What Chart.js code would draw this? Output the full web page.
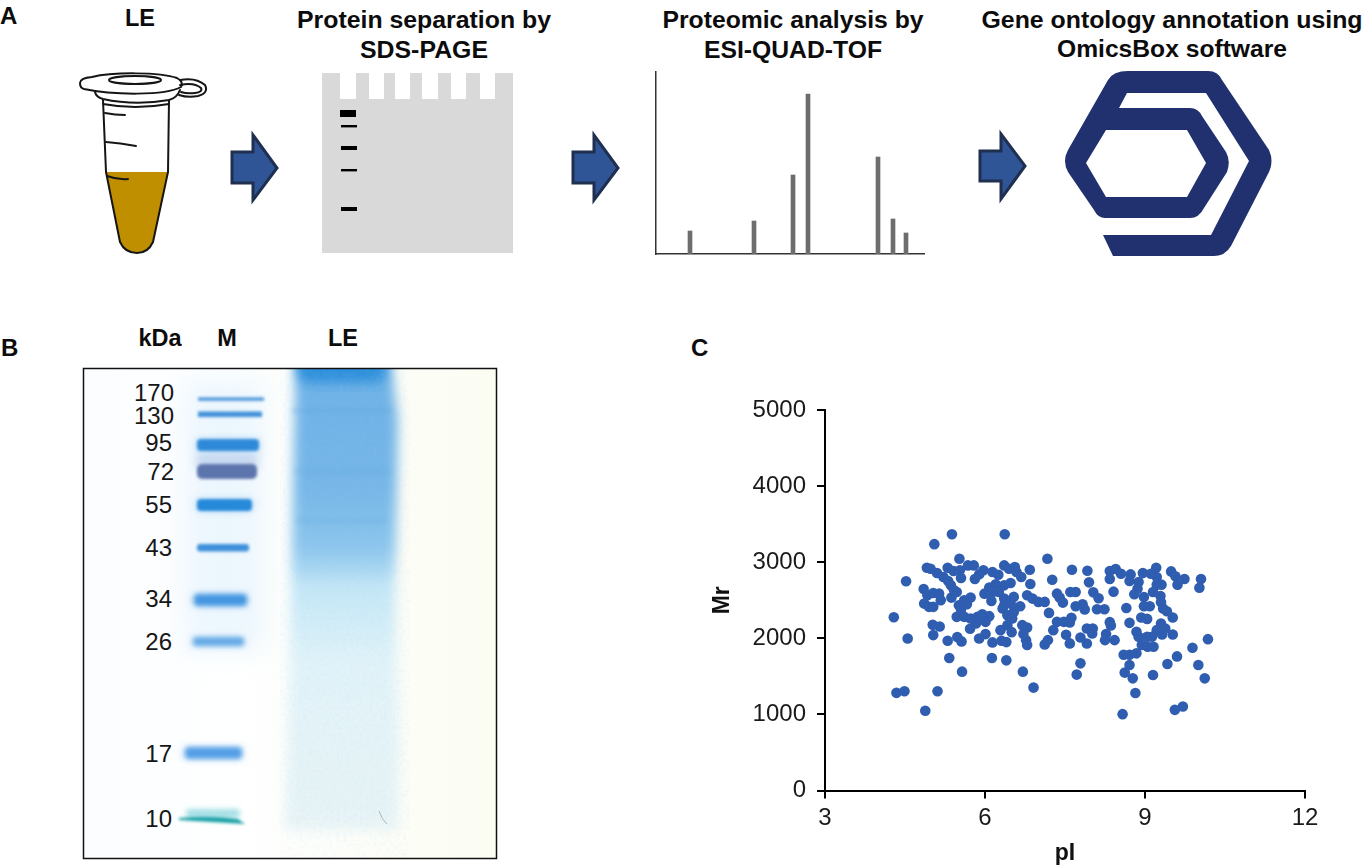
<!DOCTYPE html>
<html><head><meta charset="utf-8">
<script src="https://cdn.jsdelivr.net/npm/chart.js@4"></script>
<style>
html,body{margin:0;padding:0;background:#fff;width:1370px;height:868px;overflow:hidden;font-family:"Liberation Sans",Arial,sans-serif}
svg{position:absolute;left:0;top:0}
canvas{position:absolute}
text{font-family:"Liberation Sans",Arial,sans-serif;fill:#0c0c0c}
.h{font-weight:bold;font-size:23.5px;text-anchor:middle}
.p{font-weight:bold;font-size:24px}
.k{font-size:24px;text-anchor:end;fill:#161616}
</style></head><body>
<svg width="1370" height="868" viewBox="0 0 1370 868" xmlns="http://www.w3.org/2000/svg">
<defs>
<filter id="b1" x="-30%" y="-200%" width="160%" height="500%"><feGaussianBlur stdDeviation="1.6"/></filter>
<filter id="b2" x="-30%" y="-200%" width="160%" height="500%"><feGaussianBlur stdDeviation="2.6"/></filter>
<filter id="b3" x="-30%" y="-300%" width="160%" height="700%"><feGaussianBlur stdDeviation="5"/></filter>
<filter id="b6" x="-30%" y="-30%" width="160%" height="160%"><feGaussianBlur stdDeviation="6"/></filter>
<filter id="b14" x="-40%" y="-20%" width="180%" height="140%"><feGaussianBlur stdDeviation="14"/></filter>
<filter id="nz" x="0" y="0" width="100%" height="100%"><feTurbulence type="fractalNoise" baseFrequency="0.3" numOctaves="3" seed="4"/><feColorMatrix values="0 0 0 0 0.35 0 0 0 0 0.6 0 0 0 0 0.85 0 0 0 0.9 -0.42"/></filter>
<linearGradient id="bg" x1="0" x2="1" y1="0" y2="0"><stop offset="0" stop-color="#fbfdff"/><stop offset=".35" stop-color="#feffff"/><stop offset=".78" stop-color="#fcfdf6"/><stop offset="1" stop-color="#fbfcf2"/></linearGradient>
<linearGradient id="lane" x1="0" x2="0" y1="0" y2="1"><stop offset="0" stop-color="#3b97df"/><stop offset=".05" stop-color="#55a5e2"/><stop offset=".11" stop-color="#69afe6"/><stop offset=".3" stop-color="#6fb3e7"/><stop offset=".42" stop-color="#85c2ec"/><stop offset=".47" stop-color="#a5d5f2"/><stop offset=".5" stop-color="#c0e5f6"/><stop offset=".66" stop-color="#e0f3f9"/><stop offset=".9" stop-color="#e4f3f6"/><stop offset="1" stop-color="#e6f3f5"/></linearGradient>
<clipPath id="gelclip"><rect x="84" y="369" width="412" height="489"/></clipPath>
</defs>

<!-- panel letters -->
<text class="p" x="0" y="24">A</text>
<text class="p" x="1" y="356">B</text>
<text class="p" x="691" y="356">C</text>

<!-- panel A headings -->
<text class="h" x="140" y="26">LE</text>
<text class="h" x="424" y="28" textLength="254" lengthAdjust="spacingAndGlyphs">Protein separation by</text>
<text class="h" x="424" y="58" textLength="128" lengthAdjust="spacingAndGlyphs">SDS-PAGE</text>
<text class="h" x="793" y="28" textLength="261" lengthAdjust="spacingAndGlyphs">Proteomic analysis by</text>
<text class="h" x="793" y="58" textLength="178" lengthAdjust="spacingAndGlyphs">ESI-QUAD-TOF</text>
<text class="h" x="1172" y="28" textLength="381" lengthAdjust="spacingAndGlyphs">Gene ontology annotation using</text>
<text class="h" x="1172" y="57" textLength="230" lengthAdjust="spacingAndGlyphs">OmicsBox software</text>

<!-- tube -->
<path d="M106,172 L168,172 L153,242 Q148,253 137,253 Q125,253 120,242 Z" fill="#bf8f00"/>
<g fill="none" stroke="#151515" stroke-width="2" stroke-linecap="round" stroke-linejoin="round">
<path d="M103,100 L106,172 L120,242 Q125,253 137,253 Q148,253 153,242 L168,172 L169,100"/>
<path d="M80,83 Q80,78 92,77 C112,72 160,72 177,78 Q184,82 181,87 C165,96 112,95 84,89 Q80,88 80,83 Z"/>
<ellipse cx="135" cy="80" rx="26" ry="4"/>
<path d="M95,92 Q96,97 103,99 Q135,106 169,100 Q177,98 180,90"/>
<path d="M103,104 Q135,110 169,104"/>
<path d="M180,80 Q196,77 205,85 Q209,93 198,96 Q188,98 179,95"/>
<path d="M180,85 Q194,82 201,88 Q203,92 195,93 Q187,94 181,92"/>
<path d="M105,113 Q115,115 125,115"/><path d="M106,142 Q120,143 136,146"/><path d="M107,176 Q118,180 128,179"/>
</g>

<!-- arrows -->
<g fill="#2f5597" stroke="#1f2f4f" stroke-width="3">
<path d="M232,152 L253,152 L253,135 L277,168 L253,200 L253,183 L232,183 Z"/>
<path d="M573,152 L594,152 L594,135 L618,168 L594,200 L594,183 L573,183 Z"/>
<path d="M980,151 L1001,151 L1001,134 L1025,166 L1001,199 L1001,181 L980,181 Z"/>
</g>

<!-- SDS-PAGE schematic -->
<path fill="#d9d9d9" d="M322,73H340V99H356V73H369V99H384V73H395V99H410V73H422V99H438V73H451V99H466V73H480V99H495V73H513V253H322Z"/>
<g fill="#000"><rect x="340" y="110" width="16" height="7"/><rect x="341" y="125" width="16" height="2.4"/><rect x="341" y="146" width="16" height="4"/><rect x="341" y="169" width="16" height="2.4"/><rect x="341" y="207" width="16" height="4"/></g>

<!-- OmicsBox logo -->
<path fill="#21306e" fill-rule="evenodd"
 d="M1128,71 L1208,71 Q1218,71 1222,80 L1269,150 Q1274,161 1269,172 L1231,246 Q1225,256 1214,256 L1113,256 L1103,235 L1211,235 L1249,161 L1206,93 L1127,93 L1119,108 L1190,108 Q1198,108 1202,116 L1226,152 Q1231,161 1227,172 L1204,208 Q1199,218 1190,218 L1105,218 Q1098,218 1094,210 L1068,172 Q1062,161 1068,150 L1108,80 Q1113,71 1128,71 Z
 M1106,130 L1187,130 L1206,163 L1187,197 L1106,197 L1086,163 Z"/>

<!-- panel B gel -->
<text class="h" x="160" y="346">kDa</text>
<text class="h" x="227" y="346">M</text>
<text class="h" x="343" y="346">LE</text>
<rect x="83.5" y="368.5" width="413" height="490" fill="url(#bg)"/>
<g clip-path="url(#gelclip)">
 <rect x="185" y="380" width="80" height="270" fill="#dff0fd" opacity=".55" filter="url(#b14)"/>
 <path d="M296,340 L388,340 L398,420 L395,600 L399,740 L398,830 L285,830 L290,640 Z" fill="url(#lane)" filter="url(#b6)" opacity=".95"/>
 <rect x="298" y="350" width="87" height="32" rx="10" fill="#2f90dc" filter="url(#b6)"/>
 <rect x="292" y="408" width="100" height="5" fill="#5aa5e0" opacity=".28" filter="url(#b2)"/>
 <rect x="295" y="469" width="96" height="5" fill="#5aa5e0" opacity=".2" filter="url(#b2)"/>
 <rect x="296" y="518" width="90" height="5" fill="#5aa5e0" opacity=".22" filter="url(#b2)"/>
 <rect x="280" y="369" width="130" height="489" filter="url(#nz)" opacity=".3"/>
 <rect x="196" y="454" width="62" height="14" fill="#c3d5ef" filter="url(#b3)"/>
 <g filter="url(#b3)" opacity=".55">
  <rect x="196" y="440" width="64" height="10" fill="#7fbcec"/>
  <rect x="196" y="500" width="57" height="10" fill="#7fbcec"/>
  <rect x="192" y="595" width="56" height="10" fill="#8ec4ef"/>
  <rect x="191" y="638" width="54" height="8" fill="#a5cff2"/>
  <rect x="183" y="748" width="60" height="10" fill="#95c6f0"/>
 </g>
 <g filter="url(#b1)">
  <rect x="198" y="397.5" width="66" height="3.2" fill="#3f8fd8"/>
  <rect x="198" y="411.5" width="64" height="5.5" fill="#3f8fd8"/>
  <rect x="197" y="439" width="62" height="12" rx="4" fill="#2e8ad9"/>
  <rect x="197" y="464" width="60" height="15" rx="5" fill="#5d75ad"/>
  <rect x="197" y="499" width="55" height="12" rx="4" fill="#2689da"/>
  <rect x="197" y="544" width="52" height="7.5" rx="3" fill="#3c90da"/>
 </g>
 <g filter="url(#b2)">
  <rect x="194" y="594" width="53" height="12" rx="4" fill="#4396e0"/>
  <rect x="193" y="637" width="51" height="9" rx="3" fill="#64a9e6"/>
  <rect x="185" y="747" width="57" height="12" rx="4" fill="#559fe6"/>
 </g>
 <rect x="186" y="809" width="54" height="9" rx="4" fill="#a5e0e6" filter="url(#b2)"/>
 <path d="M179,818 Q210,815 238,819 L245,824 Q210,822 179,820 Z" fill="#1fa3a8" filter="url(#b1)"/>
 <path d="M379,811 Q382,820 387,824" stroke="#a9b8ba" stroke-width="1" fill="none"/>
</g>
<rect x="83.5" y="368.5" width="413" height="490" fill="none" stroke="#111" stroke-width="1.5"/>
<g>
<text class="k" x="174" y="401">170</text><text class="k" x="174" y="424">130</text>
<text class="k" x="172" y="451">95</text><text class="k" x="174" y="480">72</text>
<text class="k" x="172" y="513">55</text><text class="k" x="172" y="556">43</text>
<text class="k" x="172" y="607">34</text><text class="k" x="172" y="650">26</text>
<text class="k" x="172" y="762">17</text><text class="k" x="172" y="827">10</text>
</g>
</svg>
<canvas id="spec" width="280" height="196" style="left:650px;top:66px;width:280px;height:196px"></canvas>
<canvas id="sc" width="660" height="488" style="left:700px;top:380px;width:660px;height:488px"></canvas>
<script>
// Panel A: spectrum
const specMz=[34,98,137,152,222,237,250];
const specIntensity=[23,33,79,160,97,35,21];
// Panel C: scatter, pI and Mr
const pI=[5.38,6.37,5.05,5.52,7.17,7.63,4.52,4.29,4.55,4.34,4.49,5.11,4.88,5.57,5.33,6.13,6.40,6.71,6.91,7.72,7.79,5.03,5.30,5.02,5.15,5.48,5.56,4.85,4.86,4.95,5.03,4.92,5.03,5.14,5.17,4.91,4.98,5.10,5.22,5.30,5.41,5.53,5.55,5.31,5.36,5.47,5.37,5.42,5.68,5.79,5.97,5.89,5.81,6.14,6.25,6.36,6.45,6.56,6.59,6.68,6.84,6.85,6.48,6.36,6.20,6.08,5.99,6.11,6.26,5.73,5.61,5.51,5.66,5.55,6.12,6.36,6.54,6.36,6.48,6.66,6.33,6.54,6.42,6.51,5.47,5.61,5.73,5.86,5.95,6.08,5.83,5.72,6.01,6.42,6.29,6.50,6.01,5.89,6.14,6.31,6.40,6.70,6.79,6.72,6.77,6.79,6.79,6.89,7.00,7.12,7.20,7.35,7.40,7.46,7.60,7.70,7.70,7.26,7.35,7.48,7.59,7.62,7.28,7.52,7.59,7.12,7.18,
7.92,7.95,8.03,8.13,7.83,7.87,8.10,8.24,8.34,8.45,8.55,8.34,8.73,8.71,8.88,8.41,8.96,9.11,9.21,9.22,9.22,9.31,8.86,8.80,9.15,9.49,9.57,9.74,9.61,10.05,10.02,8.98,9.29,9.30,8.65,8.98,9.09,9.34,9.41,9.52,8.34,8.36,8.71,8.93,9.04,9.30,9.38,9.32,9.52,7.91,8.02,8.01,8.27,8.25,8.43,7.91,8.84,8.88,9.04,9.13,8.94,9.05,9.16,9.22,8.60,8.71,8.84,8.71,8.62,8.77,8.82,8.58,9.15,9.42,9.60,9.89,10.18,10.00,10.12,9.56,9.71,7.79];
const Mr=[3368,3368,3237,3045,3045,2901,2749,2277,1998,1283,1304,1304,1047,1562,1741,1741,1710,1562,1352,1523,1671,2042,1968,2177,2155,2016,1959,2648,2456,2413,2413,2565,2596,2587,2500,2928,2914,2858,2805,2928,2884,2893,2792,2753,2696,2609,2535,2631,2958,2958,2893,2840,2779,2871,2836,2958,2914,2936,2871,2805,2901,2714,2727,2696,2709,2666,2587,2578,2609,2535,2500,2434,2448,2378,2491,2522,2544,2434,2456,2421,2391,2347,2304,2260,2282,2282,2260,2282,2317,2291,2195,2125,2216,2173,2107,2081,2055,1998,1946,1968,1950,2173,2142,2055,1976,1911,2565,2522,2478,2478,2334,2587,2535,2469,2609,2609,2421,2770,2216,2216,2208,2269,2107,2046,1933,1920,1976,
2888,2735,2604,2526,2447,2378,2382,2382,2884,2910,2849,2779,2840,2753,2740,2613,2857,2849,2927,2805,2705,2705,2652,2578,2609,2879,2814,2779,2705,2779,2665,2543,2556,2473,2399,2421,2421,2390,2356,2273,2212,2168,2203,2273,2255,2194,2129,2050,2050,2129,2129,2063,2055,1976,1976,1932,2085,2020,2020,2020,1911,1889,1889,2107,1784,1784,1802,1649,1549,1474,1282,1003,1518,1662,1762,1876,1989,1649,1474,1060,1103,2011];
const xTicks=[3,6,9,12];
const yTicks=[0,1000,2000,3000,4000,5000];

Chart.defaults.animation=false;
Chart.defaults.font.family='"Liberation Sans",Arial,sans-serif';

new Chart(document.getElementById('spec'),{
 type:'bar',
 data:{datasets:[{data:specMz.map((m,i)=>({x:m,y:specIntensity[i]})),backgroundColor:'#6e6c6e',barThickness:4}]},
 options:{responsive:false,
  layout:{padding:{top:6,right:6,left:0,bottom:0}},
  plugins:{legend:{display:false},tooltip:{enabled:false}},
  scales:{
   x:{type:'linear',offset:false,min:0,max:268,afterFit(s){s.height=8},ticks:{display:false},grid:{display:false,offset:false},border:{color:'#333',width:1.5}},
   y:{min:0,max:182,afterFit(s){s.width=6},ticks:{display:false},grid:{display:false},border:{color:'#333',width:1.5}}
  }}
});
new Chart(document.getElementById('sc'),{
 type:'scatter',
 data:{datasets:[{data:pI.map((v,i)=>({x:v,y:Mr[i]})),backgroundColor:'#2f5db0',borderColor:'#2f5db0',pointRadius:5.3,pointHoverRadius:5.3,borderWidth:0}]},
 options:{responsive:false,
  layout:{padding:{top:30,right:55,left:0,bottom:0}},
  plugins:{legend:{display:false},tooltip:{enabled:false}},
  scales:{
   x:{type:'linear',min:3,max:12,afterFit(s){s.height=77.5},afterBuildTicks(s){s.ticks=xTicks.map(v=>({value:v}))},
      ticks:{color:'#1a1a1a',font:{size:24},padding:5,maxRotation:0,callback:v=>String(v)},
      grid:{drawOnChartArea:false,color:'#000',lineWidth:2,tickLength:8},
      border:{color:'#000',width:2},
      title:{display:true,text:'pI',color:'#111',font:{size:23,weight:'bold'},padding:{top:0,bottom:1}}},
   y:{min:0,max:5000,afterFit(s){s.width=125},afterBuildTicks(s){s.ticks=yTicks.map(v=>({value:v}))},
      ticks:{color:'#1a1a1a',font:{size:24},padding:11,callback:v=>String(v)},
      grid:{drawOnChartArea:false,color:'#000',lineWidth:2,tickLength:8},
      border:{color:'#000',width:2},
      title:{display:true,text:'Mr',color:'#111',font:{size:23,weight:'bold'},padding:{top:9,bottom:0}}}
  }}
});
</script>
</body></html>
